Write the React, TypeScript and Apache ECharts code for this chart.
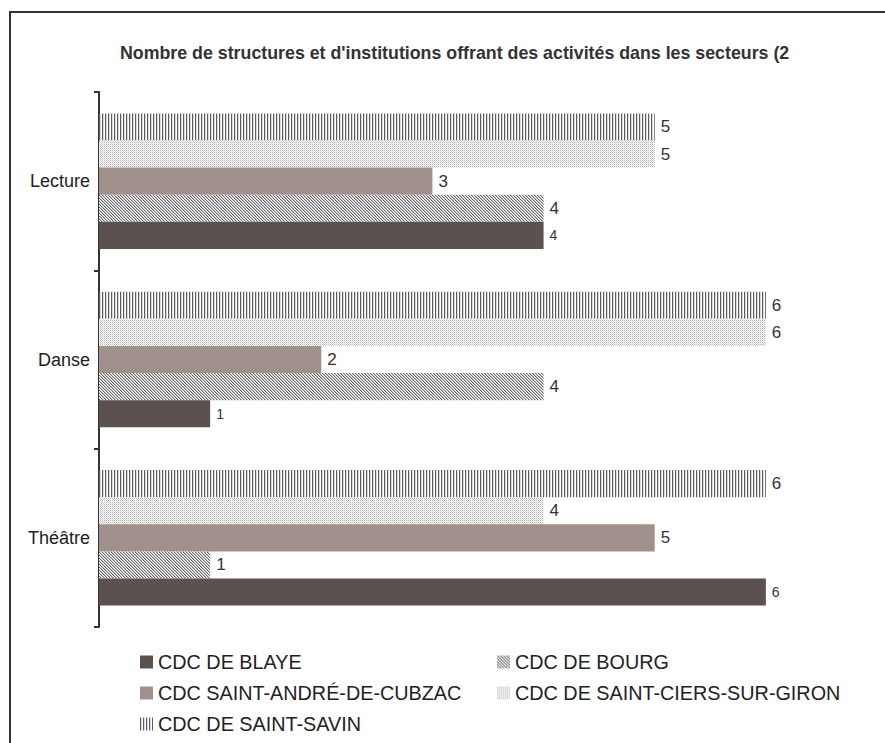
import React, { useEffect, useRef } from "react";
import * as echarts from "echarts";

const TITLE = "Nombre de structures et d'institutions offrant des activités dans les secteurs (2";
const categories = ["Théâtre", "Danse", "Lecture"];
const seriesNames = [
  "CDC DE BLAYE",
  "CDC DE BOURG",
  "CDC SAINT-ANDRÉ-DE-CUBZAC",
  "CDC DE SAINT-CIERS-SUR-GIRONDE",
  "CDC DE SAINT-SAVIN",
];
const blaye = [6, 1, 4];
const bourg = [1, 4, 4];
const andre = [5, 2, 3];
const saintCiers = [4, 6, 5];
const saintSavin = [6, 6, 5];

function makePattern(w: number, h: number, bg: string, pixels: [number, number, string][]) {
  const c = document.createElement("canvas");
  c.width = w;
  c.height = h;
  const ctx = c.getContext("2d")!;
  ctx.fillStyle = bg;
  ctx.fillRect(0, 0, w, h);
  for (const [x, y, col] of pixels) {
    ctx.fillStyle = col;
    ctx.fillRect(x, y, 1, 1);
  }
  return { image: c, repeat: "repeat" } as any;
}

export default function App() {
  const ref = useRef<HTMLDivElement>(null);
  useEffect(() => {
    document.body.style.margin = "0";
    const chart = echarts.init(ref.current!, null, { renderer: "svg" });
    const diag = makePattern(3, 3, "#ffffff", [
      [0, 0, "#6a6a6a"], [1, 1, "#6a6a6a"], [2, 2, "#6a6a6a"],
      [1, 0, "#c4c4c4"], [2, 1, "#c4c4c4"], [0, 2, "#c4c4c4"],
    ]);
    const dots = makePattern(2, 2, "#ffffff", [
      [0, 0, "#b5b5b5"], [1, 1, "#d8d8d8"],
    ]);
    const vert = makePattern(3, 1, "#ffffff", [[0, 0, "#5e5e5e"], [1, 0, "#d8d8d8"]]);
    const colors = ["#5b514e", diag, "#a0918c", dots, vert];
    const datas = [blaye, bourg, andre, saintCiers, saintSavin];
    const font = "'Liberation Sans', Arial, Helvetica, sans-serif";
    const order = [4, 3, 2, 1, 0];
    chart.setOption({
      animation: false,
      textStyle: { fontFamily: font },
      title: {
        text: TITLE,
        left: 115,
        top: 39,
        textStyle: { fontSize: 17.8, fontWeight: "bold", color: "#333", fontFamily: font },
      },
      graphic: [
        {
          type: "rect",
          shape: { x: 10, y: 12, width: 1000, height: 1000 },
          style: { fill: "none", stroke: "#333", lineWidth: 2 },
          silent: true,
        },
      ],
      grid: { left: 99, top: 92, width: 778, height: 535, containLabel: false },
      xAxis: { type: "value", min: 0, max: 7, show: false },
      yAxis: {
        type: "category",
        data: categories,
        axisLine: { show: true, lineStyle: { color: "#333", width: 2 } },
        axisTick: { show: true, length: 5, lineStyle: { color: "#333", width: 2 } },
        axisLabel: { fontSize: 18, color: "#222", margin: 9, fontFamily: font },
      },
      legend: [
        {
          data: [seriesNames[0], seriesNames[2], seriesNames[4]],
          orient: "vertical",
          left: 140,
          top: 652,
          padding: 0,
          itemWidth: 13,
          itemHeight: 13,
          itemGap: 11,
          icon: "rect",
          textStyle: { fontSize: 19.8, color: "#222", lineHeight: 18, fontFamily: font },
        },
        {
          data: [seriesNames[1], seriesNames[3]],
          orient: "vertical",
          left: 497,
          top: 652,
          padding: 0,
          itemWidth: 13,
          itemHeight: 13,
          itemGap: 11,
          icon: "rect",
          textStyle: {
            fontSize: 19.8,
            color: "#222",
            lineHeight: 18,
            fontFamily: font,
            width: 330,
            overflow: "truncate",
            ellipsis: "",
          },
        },
      ],
      series: order.map((i) => ({
        type: "bar",
        name: seriesNames[i],
        data: datas[i],
        barGap: "0%",
        barCategoryGap: "24%",
        itemStyle: { color: colors[i] },
        label: {
          show: true,
          position: "right",
          distance: 6,
          fontSize: i === 0 ? 14 : 17,
          color: "#333",
          fontFamily: font,
        },
      })),
    });
    return () => chart.dispose();
  }, []);
  return <div ref={ref} style={{ width: 885, height: 743 }} />;
}
